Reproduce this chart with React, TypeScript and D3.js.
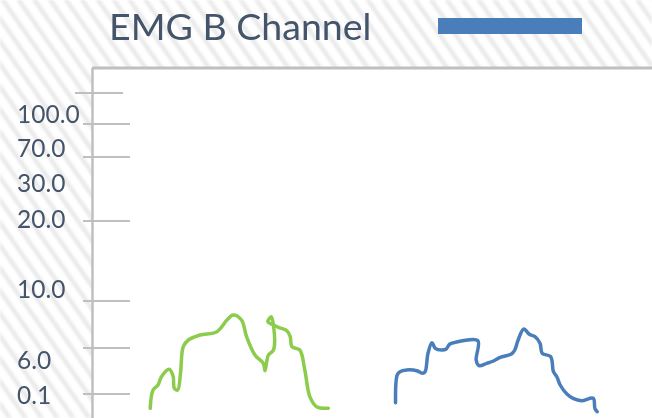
import React from "react";
import * as d3 from "d3";

// EMG B channel traces: time in seconds, amplitude in arbitrary units
const greenTime = [1.04, 1.09, 1.18, 1.24, 1.38, 1.45, 1.47, 1.53, 1.58, 1.63, 1.72, 1.93, 2.23, 2.41, 2.52, 2.67, 2.76, 2.91, 3.06, 3.09, 3.15, 3.24, 3.24, 3.2, 3.14, 3.21, 3.33, 3.48, 3.54, 3.57, 3.71, 3.8, 3.89, 4.01, 4.22];
const greenAmp = [0.97, 2.8, 3.3, 4.13, 4.87, 4.13, 2.97, 2.8, 4.47, 7.13, 7.8, 8.3, 8.63, 9.8, 10.3, 9.8, 8.13, 6.3, 5.47, 4.73, 6.3, 6.8, 9.3, 10.13, 9.63, 9.37, 9.07, 8.73, 8.13, 7.13, 6.8, 4.8, 2.13, 1.13, 0.97];

const blueTime = [5.42, 5.45, 5.5, 5.62, 5.8, 5.91, 5.95, 6.0, 6.07, 6.13, 6.24, 6.32, 6.39, 6.51, 6.89, 6.86, 6.91, 7.05, 7.17, 7.29, 7.49, 7.55, 7.61, 7.71, 7.81, 7.91, 8.0, 8.04, 8.19, 8.24, 8.3, 8.36, 8.48, 8.59, 8.74, 8.95, 8.98, 9.02];
const blueAmp = [1.53, 4.3, 4.63, 4.8, 4.73, 4.47, 4.63, 6.47, 7.53, 6.97, 6.8, 6.87, 7.4, 7.6, 7.73, 5.8, 5.23, 5.47, 5.7, 6.07, 6.4, 6.8, 7.8, 8.9, 8.37, 8.13, 7.47, 6.47, 6.13, 4.63, 4.13, 3.3, 2.4, 1.97, 1.73, 1.97, 0.97, 0.63];

// Axis decorations
const tickValues = [32.5, 29.4, 26.1, 19.7, 11.7, 7.0, 2.4];
const tickLabels = ["100.0", "70.0", "30.0", "20.0", "10.0", "6.0", "0.1"];
const labelValues = [29.5, 26.1, 22.6, 19.0, 12.0, 4.9, 1.4];

const W = 652;
const H = 418;
const plot = { left: 92, top: 68, right: 652, bottom: 418 };

const x = d3.scaleLinear().domain([0, 10]).range([plot.left, plot.right]);
const y = d3.scaleLinear().domain([0, 35]).range([plot.bottom, plot.top]);

const line = d3
  .line<[number, number]>()
  .x((d) => x(d[0]))
  .y((d) => y(d[1]))
  .curve(d3.curveCatmullRom.alpha(0.5));

const zip = (a: number[], b: number[]) => a.map((v, i) => [v, b[i]] as [number, number]);

const textColor = "#44546a";
const gridColor = "#bfbfbf";
const font = "Lato, 'Open Sans', sans-serif";

export default function App() {
  return (
    <svg
      width={W}
      height={H}
      style={{ position: "fixed", left: 0, top: 0, display: "block" }}
      xmlns="http://www.w3.org/2000/svg"
    >
      <defs>
        <pattern
          id="stripes"
          width={13}
          height={13}
          patternUnits="userSpaceOnUse"
          patternTransform="rotate(-35)"
        >
          <rect width={13} height={13} fill="#ffffff" />
          <rect x={0} y={0} width={4.5} height={13} fill="#eaeaea" />
        </pattern>
        <filter id="soft" x="0" y="0" width="1" height="1">
          <feGaussianBlur stdDeviation="0.8" />
        </filter>
      </defs>
      <rect width={W} height={H} fill="url(#stripes)" filter="url(#soft)" />
      <rect
        x={plot.left}
        y={plot.top}
        width={plot.right - plot.left}
        height={plot.bottom - plot.top}
        fill="#ffffff"
      />

      {/* Title and legend swatch */}
      <text x={109} y={39.5} fontFamily={font} fontSize={37.5} fill={textColor}>
        EMG B Channel
      </text>
      <rect x={438} y={18} width={144} height={16} fill="#4a7ebb" />

      {/* Frame */}
      <line x1={plot.left} x2={plot.right} y1={plot.top} y2={plot.top} stroke={gridColor} strokeWidth={3} />
      <line x1={plot.left + 0.5} x2={plot.left + 0.5} y1={plot.top} y2={plot.bottom} stroke={gridColor} strokeWidth={2.5} />

      {/* Tick marks */}
      {tickValues.map((v, i) => (
        <line
          key={"t" + i}
          x1={i === 0 ? 75 : 83}
          x2={i === 0 ? 123 : 130}
          y1={y(v)}
          y2={y(v)}
          stroke={gridColor}
          strokeWidth={2}
        />
      ))}

      {/* Tick labels */}
      {tickLabels.map((t, i) => (
        <text
          key={"l" + i}
          x={17}
          y={y(labelValues[i])}
          fontFamily={font}
          fontSize={24.5}
          fill={textColor}
        >
          {t}
        </text>
      ))}

      {/* Traces */}
      <path
        d={line(zip(greenTime, greenAmp)) || ""}
        fill="none"
        stroke="#8ccc4c"
        strokeWidth={3.5}
        strokeLinejoin="round"
        strokeLinecap="round"
      />
      <path
        d={line(zip(blueTime, blueAmp)) || ""}
        fill="none"
        stroke="#4a7ebb"
        strokeWidth={3.5}
        strokeLinejoin="round"
        strokeLinecap="round"
      />
    </svg>
  );
}
